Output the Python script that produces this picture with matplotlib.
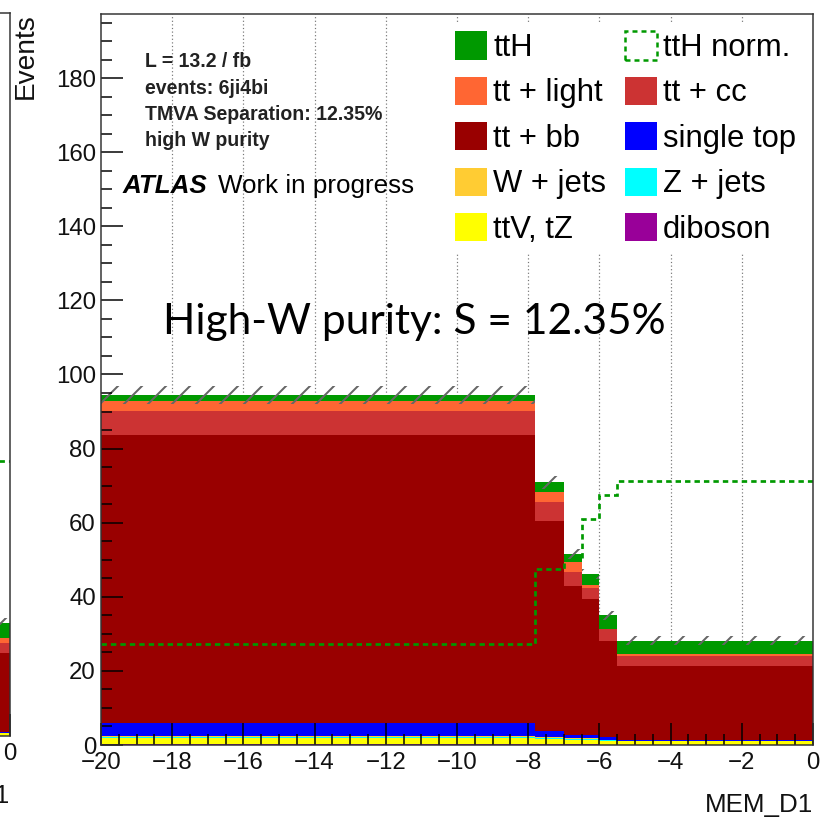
import matplotlib
matplotlib.use("Agg")
import matplotlib.pyplot as plt
from matplotlib.patches import Patch
from matplotlib.ticker import MultipleLocator

# ---------------- data ----------------
edges = [-20.0, -7.8, -7.0, -6.5, -6.0, -5.5, 0.0]

diboson    = [0.25, 0.20, 0.15, 0.15, 0.10, 0.10]
ttv_tz     = [1.60, 1.30, 1.20, 1.20, 1.00, 0.90]
z_jets     = [0.30, 0.30, 0.20, 0.20, 0.15, 0.10]
w_jets     = [0.25, 0.30, 0.25, 0.25, 0.10, 0.10]
single_top = [3.60, 1.70, 0.90, 0.90, 0.75, 0.10]
tt_bb      = [77.8, 56.6, 40.3, 36.6, 26.1, 19.9]
tt_cc      = [6.30, 5.10, 3.80, 3.10, 3.10, 2.70]
tt_light   = [2.70, 2.80, 2.50, 0.80, 0.10, 0.60]
tth        = [1.60, 2.60, 2.30, 3.00, 3.60, 3.70]
tth_norm   = [27.2, 47.6, 50.0, 61.0, 67.6, 71.3]
stat_err   = [2.40, 1.80, 1.30, 1.30, 1.30, 1.30]

# neighbouring (low-W purity) panel, only its last bin reaches into view
nb_edges      = [-5.5, 0.0]
nb_diboson    = [0.10]
nb_ttv_tz     = [0.60]
nb_z_jets     = [0.10]
nb_w_jets     = [0.10]
nb_single_top = [0.20]
nb_tt_bb      = [21.3]
nb_tt_cc      = [2.70]
nb_tt_light   = [1.40]
nb_tth        = [4.00]
nb_tth_norm   = [74.2]
nb_stat_err   = [1.30]

legend_labels = ["ttH", "tt + light", "tt + bb", "W + jets", "ttV, tZ",
                 "ttH norm.", "tt + cc", "single top", "Z + jets", "diboson"]

# ---------------- style ----------------
W_PX = H_PX = 820
DPI = 72  # 1 pt == 1 px

C = {
    "tth": "#009900", "tt_light": "#FF6633", "tt_cc": "#CC3333",
    "tt_bb": "#990000", "single_top": "#0000FF", "w_jets": "#FFCC33",
    "z_jets": "#00FFFF", "ttv_tz": "#FFFF00", "diboson": "#990099",
}
SANS = ["Liberation Sans", "DejaVu Sans"]
plt.rcParams["font.family"] = SANS
plt.rcParams["hatch.linewidth"] = 2.0
plt.rcParams["axes.linewidth"] = 1.5

fig = plt.figure(figsize=(W_PX / DPI, H_PX / DPI), dpi=DPI)


def px_rect(x0, y0, x1, y1):
    """Axes rectangle from pixel box (top-left origin)."""
    return [x0 / W_PX, 1 - y1 / H_PX, (x1 - x0) / W_PX, (y1 - y0) / H_PX]


def draw_panel(ax, e, comps, norm, err, ymax):
    order = ["diboson", "ttv_tz", "z_jets", "w_jets", "single_top",
             "tt_bb", "tt_cc", "tt_light", "tth"]
    base = [0.0] * (len(e) - 1)
    for key in order:
        vals = comps[key]
        top = [b + v for b, v in zip(base, vals)]
        ax.stairs(top, e, baseline=base, fill=True, color=C[key],
                  linewidth=0, zorder=1)
        base = top
    lo = [t - s for t, s in zip(base, err)]
    hi = [t + s for t, s in zip(base, err)]
    ax.stairs(hi, e, baseline=lo, fill=True, facecolor="none",
              edgecolor="#666666", hatch="/", linewidth=0, zorder=1.5)
    ax.stairs(norm, e, baseline=None, color=C["tth"], linewidth=2.7,
              linestyle=(0, (2.0, 1.5)), zorder=2)

    ax.set_xlim(-20, 0)
    ax.set_ylim(0, ymax)
    ax.xaxis.set_major_locator(MultipleLocator(2))
    ax.xaxis.set_minor_locator(MultipleLocator(0.5))
    ax.yaxis.set_major_locator(MultipleLocator(20))
    ax.yaxis.set_minor_locator(MultipleLocator(5))
    ax.tick_params(which="both", direction="in", top=False, right=False,
                   colors="black", width=1.5, labelsize=24,
                   labelcolor="#111111")
    ax.tick_params(which="major", length=22)
    ax.tick_params(which="minor", length=11)
    ax.tick_params(axis="x", pad=7)
    ax.tick_params(axis="y", pad=5)
    for sp in ax.spines.values():
        sp.set_color("#333333")
    # dotted vertical grid behind the stack, on the major x ticks
    for xv in ax.get_xticks():
        if -20 < xv < 0:
            ax.axvline(xv, color="#777777", linestyle=(0, (1, 2)),
                       linewidth=1.2, zorder=0.5)
    ax.set_xlabel("MEM_D1", loc="right", fontsize=26, labelpad=19,
                  color="#111111")


# main panel
ax = fig.add_axes(px_rect(101, 14, 813, 745))
draw_panel(ax, edges,
           dict(diboson=diboson, ttv_tz=ttv_tz, z_jets=z_jets, w_jets=w_jets,
                single_top=single_top, tt_bb=tt_bb, tt_cc=tt_cc,
                tt_light=tt_light, tth=tth),
           tth_norm, stat_err, 197.3)

# neighbouring panel, cut by the left edge of the slide
axn = fig.add_axes(px_rect(-702, 13, 10, 736))
draw_panel(axn, nb_edges,
           dict(diboson=nb_diboson, ttv_tz=nb_ttv_tz, z_jets=nb_z_jets,
                w_jets=nb_w_jets, single_top=nb_single_top, tt_bb=nb_tt_bb,
                tt_cc=nb_tt_cc, tt_light=nb_tt_light, tth=nb_tth),
           nb_tth_norm, nb_stat_err, 195.1)

fig.text(26 / W_PX, 1 - 13 / H_PX, "Events", rotation=90, ha="center",
         va="top", fontsize=28, color="#111111")

# legend
fill_keys = ["tth", "tt_light", "tt_bb", "w_jets", "ttv_tz"]
right_keys = [None, "tt_cc", "single_top", "z_jets", "diboson"]
handles = [Patch(facecolor=C[k], edgecolor="none") for k in fill_keys]
handles.append(Patch(facecolor="none", edgecolor=C["tth"], linewidth=2.5,
                     linestyle=(0, (2.0, 1.6))))
handles += [Patch(facecolor=C[k], edgecolor="none") for k in right_keys[1:]]
leg = ax.legend(handles, legend_labels, ncol=2, loc="upper left",
                bbox_to_anchor=(446 / W_PX, 1 - 22 / H_PX),
                bbox_transform=fig.transFigure, fontsize=31, frameon=True,
                fancybox=False, framealpha=1.0, facecolor="white",
                edgecolor="none", borderpad=0.3, borderaxespad=0,
                handlelength=1.03, handleheight=1.03, handletextpad=0.2,
                columnspacing=0.6, labelspacing=0.44)
leg.set_zorder(3)

# annotation block
info = ["L = 13.2 / fb", "events: 6ji4bi", "TMVA Separation: 12.35%",
        "high W purity"]
for i, line in enumerate(info):
    fig.text(145 / W_PX, 1 - (67 + 26.5 * i) / H_PX, line, ha="left",
             va="baseline", fontsize=19.5, fontweight="bold",
             color="#222222")
fig.text(123 / W_PX, 1 - 193 / H_PX, "ATLAS", ha="left", va="baseline",
         fontsize=26, fontweight="bold", fontstyle="italic", color="black")
fig.text(218 / W_PX, 1 - 193 / H_PX, "Work in progress", ha="left",
         va="baseline", fontsize=26, color="black")

fig.text(163 / W_PX, 1 - 334 / H_PX, "High-W purity: S = 12.35%",
         ha="left", va="baseline", fontsize=42.5,
         family=["Lato", "DejaVu Sans"], color="black")

fig.savefig("out.png", dpi=DPI)
